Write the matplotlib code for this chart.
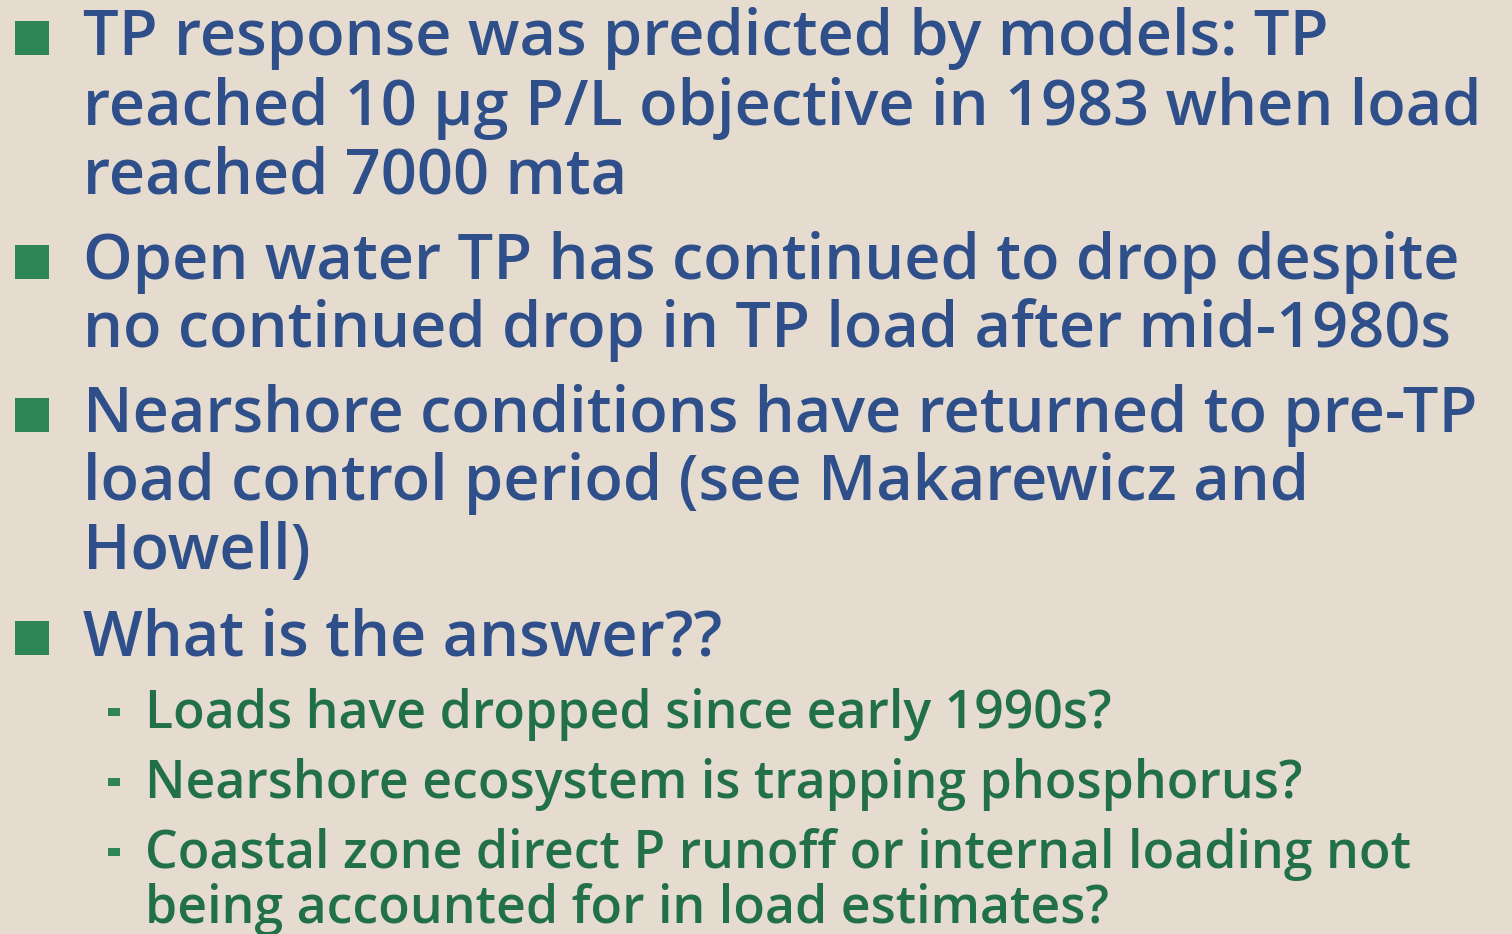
import matplotlib
matplotlib.use("Agg")
import matplotlib.pyplot as plt
from matplotlib.patches import Rectangle

W, H = 1512, 934
BG = "#E5DCCF"
BLUE = "#2E4F8A"
GREEN_BULLET = "#2E8558"
GREEN_TEXT = "#22704A"
FONT = "Open Sans"
WEIGHT = "semibold"

main_bullets = [
    ["TP response was predicted by models: TP",
     "reached 10 µg P/L objective in 1983 when load",
     "reached 7000 mta"],
    ["Open water TP has continued to drop despite",
     "no continued drop in TP load after mid-1980s"],
    ["Nearshore conditions have returned to pre-TP",
     "load control period (see Makarewicz and",
     "Howell)"],
    ["What is the answer??"],
]
sub_bullets = [
    ["Loads have dropped since early 1990s?"],
    ["Nearshore ecosystem is trapping phosphorus?"],
    ["Coastal zone direct P runoff or internal loading not",
     "being accounted for in load estimates?"],
]

# layout (pixels)
main_baselines = [[55, 125, 193], [279, 347], [432, 500, 569], [655]]
sub_baselines = [[728], [798], [868, 923]]
MAIN_X, SUB_X = 83, 145
# reference lines and their right edges in the original
MAIN_REFS = [(main_bullets[1][0], 1443), (main_bullets[0][1], 1497),
             (main_bullets[1][1], 1450), (main_bullets[2][0], 1465)]
SUB_REFS = [(sub_bullets[2][0], 1415), (sub_bullets[1][0], 1278),
            (sub_bullets[0][0], 1115)]

fig = plt.figure(figsize=(W / 100, H / 100), dpi=100)
fig.patch.set_facecolor(BG)
ax = fig.add_axes([0, 0, 1, 1])
ax.set_xlim(0, W)
ax.set_ylim(H, 0)
ax.axis("off")
ax.set_facecolor(BG)

renderer = fig.canvas.get_renderer()


def fit_size(refs, x0):
    sizes = []
    for text, right in refs:
        t = ax.text(0, 0, text, fontsize=40, family=FONT, weight=WEIGHT)
        w = t.get_window_extent(renderer).width
        t.remove()
        sizes.append(40 * (right - x0) / w)
    return sum(sizes) / len(sizes)


main_fs = fit_size(MAIN_REFS, MAIN_X)
sub_fs = fit_size(SUB_REFS, SUB_X)

for lines, bls in zip(main_bullets, main_baselines):
    ax.add_patch(Rectangle((15, bls[0] - 34), 34, 34, color=GREEN_BULLET, lw=0))
    for line, b in zip(lines, bls):
        ax.text(MAIN_X, b, line, fontsize=main_fs, family=FONT, weight=WEIGHT,
                color=BLUE, va="baseline", ha="left")

for lines, bls in zip(sub_bullets, sub_baselines):
    ax.add_patch(Rectangle((108, bls[0] - 20), 12, 8, color=GREEN_BULLET, lw=0))
    for line, b in zip(lines, bls):
        ax.text(SUB_X, b, line, fontsize=sub_fs, family=FONT, weight=WEIGHT,
                color=GREEN_TEXT, va="baseline", ha="left")

fig.savefig("out.png", dpi=100, facecolor=BG)
